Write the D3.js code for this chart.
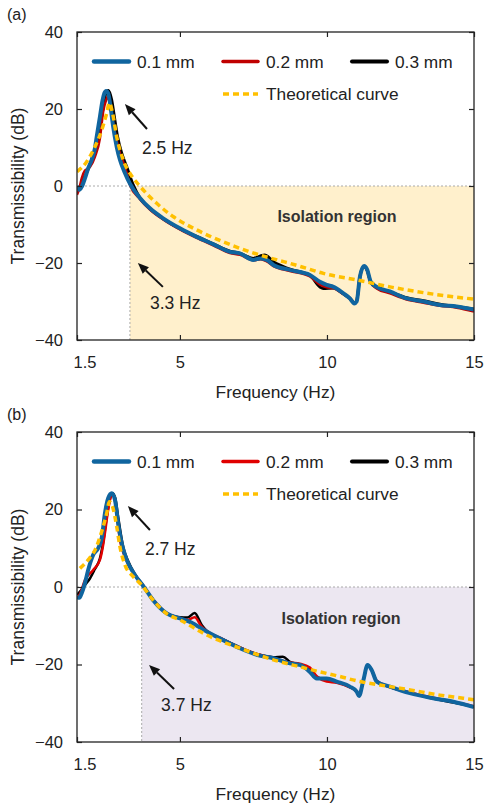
<!DOCTYPE html>
<html>
<head>
<meta charset="utf-8">
<script src="https://cdn.jsdelivr.net/npm/d3@7"></script>
<style>
  body { margin: 0; background: #fff; }
  text { font-family: "Liberation Sans", Arial, sans-serif; fill: #222; }
</style>
</head>
<body>
<svg id="chart" width="485" height="807"></svg>
<script>
// ---- axis ticks and legend labels ----
const freqTicks = [1.5, 5, 10, 15];
const dbTicks = [40, 20, 0, -20, -40];
const seriesNames = ["0.1 mm", "0.2 mm", "0.3 mm"];
const theoryName = "Theoretical curve";

// ---- panel (a): measured transmissibility, [frequency Hz, dB] ----
const a01 = [[1.5,0],[1.58,-1.0],[1.66,-0.2],[1.77,2],[1.88,4.6],[2.0,6.8],[2.11,9.8],[2.17,12.8],[2.28,18],[2.37,22.3],[2.43,24.1],[2.49,24.7],[2.56,24.1],[2.64,20.6],[2.73,15.4],[2.85,10.2],[2.96,6.8],[3.13,3.4],[3.3,0.6],[3.64,-3.1],[3.98,-5.8],[4.43,-8.4],[5.0,-11],[5.57,-13.2],[6.13,-15.1],[6.7,-17.1],[7.04,-17.5],[7.5,-19.2],[7.72,-18.8],[7.95,-19.2],[8.18,-20.5],[8.74,-21.8],[9.42,-23.1],[9.76,-24.9],[9.99,-25.7],[10.22,-26.2],[10.56,-27.9],[10.78,-29.2],[10.93,-30.5],[11.01,-30.0],[11.12,-23.6],[11.26,-20.8],[11.37,-21.8],[11.49,-24.9],[11.69,-26.2],[12.14,-27.4],[12.71,-29.2],[13.28,-30],[13.84,-30.9],[14.41,-31.3],[15,-32.1]];
const a02 = [[1.5,-2.3],[1.58,-0.6],[1.66,2],[1.77,4],[1.94,4.9],[2.11,7.6],[2.28,12.4],[2.39,19.3],[2.49,22.3],[2.54,23.2],[2.62,21.5],[2.73,16.3],[2.85,11.9],[2.96,8.5],[3.13,5],[3.3,0.3],[3.64,-3.4],[3.98,-6.1],[4.43,-8.7],[5.0,-11.3],[5.57,-13.5],[6.13,-15.4],[6.7,-17.4],[7.04,-17.9],[7.5,-19.3],[7.75,-19.0],[7.95,-19.6],[8.18,-20.8],[8.74,-22.1],[9.42,-23.5],[9.76,-25.6],[9.99,-26.3],[10.22,-26.6],[10.56,-28.1],[10.78,-29.3],[10.93,-30.5],[11.01,-30.0],[11.12,-23.8],[11.26,-21],[11.37,-22],[11.49,-25.2],[11.69,-26.6],[12.14,-27.9],[12.71,-29.5],[13.28,-30.3],[13.84,-31.1],[14.41,-31.6],[15,-32.6]];
const a03 = [[1.5,-0.5],[1.6,-0.5],[1.7,1.5],[1.8,3],[1.94,5.5],[2.11,9.5],[2.25,14],[2.38,20],[2.47,23.8],[2.57,24.8],[2.68,22.3],[2.77,18],[2.88,12.8],[3.02,8.5],[3.19,5],[3.4,0.5],[3.64,-3.1],[3.98,-5.9],[4.43,-8.5],[5.0,-11.1],[5.57,-13.1],[6.13,-15],[6.7,-16.9],[7.04,-17.5],[7.5,-18.8],[7.72,-18.2],[7.89,-17.9],[8.18,-19.7],[8.74,-21.6],[9.42,-23.2],[9.76,-26.2],[9.87,-26.6],[10.22,-26.5],[10.56,-28],[10.78,-29.2],[10.93,-30.3],[11.01,-29.8],[11.12,-23.6],[11.26,-20.9],[11.37,-21.9],[11.49,-25],[11.69,-26.3],[12.14,-27.5],[12.71,-29],[13.28,-29.8],[13.84,-30.7],[14.41,-31.3],[15,-32]];
const aTheory = [[1.5,3.7],[1.83,6.3],[2.11,10.2],[2.34,14.5],[2.51,18.9],[2.6,21.6],[2.71,18.9],[2.85,12.8],[3.07,6.8],[3.36,2.6],[3.6,0.3],[4.21,-4.5],[4.78,-8],[5.57,-11.4],[6.47,-14.5],[7.38,-17.1],[8.4,-19.4],[8.74,-20.1],[9.31,-21.4],[9.88,-22.7],[11.01,-24.4],[12.14,-26.2],[13.28,-27.7],[15,-29.4]];

// ---- panel (b) ----
const b01 = [[1.5,-2.6],[1.58,-2.8],[1.66,-1.6],[1.77,1],[1.88,4.4],[2.05,8.3],[2.22,10],[2.34,12.6],[2.45,19],[2.56,22.9],[2.68,24.2],[2.79,22.5],[2.9,16.4],[3.02,11.3],[3.19,7],[3.47,3.1],[3.75,0.3],[4.09,-3.4],[4.55,-6.8],[5.0,-8.1],[5.34,-9],[5.91,-11.5],[6.47,-13.7],[7.04,-15.8],[7.61,-17.5],[8.18,-18.4],[8.74,-19.7],[9.08,-20.1],[9.42,-21.9],[9.65,-23.6],[9.99,-23.6],[10.33,-24.4],[10.78,-25.7],[11.01,-27],[11.09,-28.1],[11.24,-24],[11.38,-20.1],[11.52,-21.4],[11.69,-24.4],[12.14,-25.7],[12.82,-27.4],[13.61,-28.7],[14.3,-29.6],[15,-31]];
const b02 = [[1.5,-3],[1.6,-1.8],[1.77,1.8],[2.05,4.4],[2.28,7],[2.37,10],[2.45,13.9],[2.56,19.9],[2.68,23.7],[2.75,23.5],[2.85,19],[2.96,12.1],[3.13,7.8],[3.47,3.2],[3.75,0.4],[4.09,-3.3],[4.55,-6.7],[5.0,-8],[5.25,-8.5],[5.5,-7.8],[5.74,-10.2],[5.91,-11.3],[6.47,-13.5],[7.04,-15.6],[7.61,-17.3],[8.18,-18.3],[8.74,-19.5],[9.08,-19.8],[9.42,-20.8],[9.65,-23],[9.99,-24.4],[10.33,-24.7],[10.78,-25.9],[11.01,-27],[11.09,-28],[11.24,-24],[11.38,-20.2],[11.52,-21.4],[11.69,-24.2],[12.14,-25.8],[12.82,-27.2],[13.61,-28.6],[14.3,-29.6],[15,-30.8]];
const b03 = [[1.5,-2],[1.6,-1.2],[1.8,0.8],[1.94,2.2],[2.1,4.5],[2.28,7.4],[2.4,12],[2.5,17.5],[2.6,22],[2.71,24.2],[2.8,23],[2.9,18.1],[3.07,10.4],[3.25,6.5],[3.47,3.3],[3.75,0.4],[4.09,-3.3],[4.55,-6.7],[5.0,-7.8],[5.25,-7.9],[5.5,-6.7],[5.74,-9.8],[5.91,-11.3],[6.47,-13.5],[7.04,-15.6],[7.61,-17.3],[8.18,-18.1],[8.5,-18],[8.74,-19.3],[9.08,-20],[9.42,-21.2],[9.65,-23.2],[9.99,-24.1],[10.33,-24.5],[10.78,-25.8],[11.01,-27],[11.09,-28],[11.24,-24],[11.38,-20.2],[11.52,-21.4],[11.69,-24.3],[12.14,-25.8],[12.82,-27.3],[13.61,-28.8],[14.3,-29.8],[15,-30.9]];
const bTheory = [[1.6,4.8],[1.88,7],[2.11,9.5],[2.34,14.3],[2.51,19],[2.6,22],[2.71,20.7],[2.85,15.6],[2.96,10.4],[3.13,5.7],[3.41,2.7],[3.7,0.5],[4.09,-3.4],[4.55,-6.9],[5.0,-8.5],[5.91,-12.4],[7.04,-15.8],[8.18,-18.8],[9.08,-20.6],[9.76,-21.9],[10.44,-23.1],[11.12,-24.4],[11.8,-25.3],[12.48,-26.1],[13.16,-27],[13.84,-27.9],[14.63,-28.7],[15,-29.1]];

// ---- annotations: crossover / resonance markers ----
const aNotes = [
  { text: "2.5 Hz", at: [3.71, 10], head: [3.13, 21.3], tail: [3.88, 14.8] },
  { text: "3.3 Hz", at: [3.98, -30.4], head: [3.57, -20], tail: [4.42, -26.2] }
];
const bNotes = [
  { text: "2.7 Hz", at: [3.81, 9.8], head: [3.23, 20.9], tail: [3.98, 14.7] },
  { text: "3.7 Hz", at: [4.36, -30.5], head: [3.95, -20.1], tail: [4.8, -26.3] }
];

const svg = d3.select("#chart");
const left = 77, right = 474;

function drawPanel(cfg) {
  const x = d3.scaleLinear().domain([1.5, 15]).range([left, right]);
  const y = d3.scaleLinear().domain([-40, 40]).range([cfg.top + cfg.h, cfg.top]);
  const g = svg.append("g");
  const clipId = "clip-" + cfg.id;
  svg.append("clipPath").attr("id", clipId)
    .append("rect").attr("x", left).attr("y", cfg.top)
    .attr("width", right - left).attr("height", cfg.h);

  // isolation region shading above the crossover frequency
  g.append("rect")
    .attr("x", x(cfg.cutoff)).attr("y", y(0))
    .attr("width", x(15) - x(cfg.cutoff)).attr("height", y(-40) - y(0))
    .attr("fill", cfg.shade);

  // 0 dB reference and crossover guide
  g.append("line").attr("x1", left).attr("x2", right).attr("y1", y(0)).attr("y2", y(0))
    .attr("stroke", "#aaa").attr("stroke-width", 1).attr("stroke-dasharray", "2,2");
  g.append("line").attr("x1", x(cfg.cutoff)).attr("x2", x(cfg.cutoff)).attr("y1", y(0)).attr("y2", y(-40))
    .attr("stroke", "#aaa").attr("stroke-width", 1).attr("stroke-dasharray", "2,2");

  g.append("text").attr("x", x(cfg.region[0])).attr("y", y(cfg.region[1]))
    .attr("dy", "0.35em").attr("text-anchor", "middle")
    .attr("font-size", 16).attr("font-weight", "bold").style("fill", "#333")
    .text("Isolation region");

  const line = d3.line().x(d => x(d[0])).y(d => y(d[1])).curve(d3.curveMonotoneX);
  const curves = g.append("g").attr("clip-path", `url(#${clipId})`);
  // draw order: 0.3 mm, 0.2 mm, 0.1 mm, theory on top
  [2, 1, 0].forEach(i => {
    curves.append("path").datum(cfg.series[i])
      .attr("fill", "none").attr("stroke", cfg.colors[i])
      .attr("stroke-width", cfg.widths[i]).attr("stroke-linejoin", "round")
      .attr("d", line);
  });
  curves.append("path").datum(cfg.theory)
    .attr("fill", "none").attr("stroke", "#ffc000").attr("stroke-width", 3.5)
    .attr("stroke-dasharray", "6,4").attr("d", line);

  // frame and inward ticks on all four sides
  g.append("rect").attr("x", left).attr("y", cfg.top).attr("width", right - left).attr("height", cfg.h)
    .attr("fill", "none").attr("stroke", "#222").attr("stroke-width", 1.3);

  const ax = g.append("g").attr("transform", `translate(0,${cfg.top + cfg.h})`)
    .call(d3.axisBottom(x).tickValues(freqTicks).tickSize(-5).tickPadding(16).tickFormat(d3.format("")));
  const ay = g.append("g").attr("transform", `translate(${left},0)`)
    .call(d3.axisLeft(y).tickValues(dbTicks).tickSize(-5).tickPadding(14));
  const at = g.append("g").attr("transform", `translate(0,${cfg.top})`)
    .call(d3.axisTop(x).tickValues(freqTicks).tickSize(-5).tickFormat(""));
  const ar = g.append("g").attr("transform", `translate(${right},0)`)
    .call(d3.axisRight(y).tickValues(dbTicks).tickSize(-5).tickFormat(""));
  [ax, ay, at, ar].forEach(a => {
    a.select(".domain").remove();
    a.selectAll(".tick line").attr("stroke", "#222").attr("stroke-width", 1.2);
    a.selectAll("text").attr("font-size", 16.5).style("fill", "#222")
      .attr("font-family", '"Liberation Sans", Arial, sans-serif');
  });
  ax.selectAll(".tick text").filter(d => d === 1.5).attr("text-anchor", "start").attr("x", -4);

  // axis titles and panel tag
  g.append("text").attr("x", 7).attr("y", cfg.top - 12).attr("font-size", 16).text(cfg.label);
  g.append("text").attr("transform", `translate(24,${cfg.top + cfg.h / 2}) rotate(-90)`)
    .attr("text-anchor", "middle").attr("font-size", 17.5).text("Transmissibility (dB)");
  g.append("text").attr("x", (left + right) / 2).attr("y", cfg.top + cfg.h + 58)
    .attr("text-anchor", "middle").attr("font-size", 17.4).text("Frequency (Hz)");

  // legend
  const legRow1 = cfg.top + 29.5, legRow2 = cfg.top + 62;
  const legItems = [
    { name: seriesNames[0], x0: left + 17, row: legRow1, color: cfg.colors[0], w: 4.5, dash: null },
    { name: seriesNames[1], x0: left + 146, row: legRow1, color: cfg.colors[1], w: 3.5, dash: null },
    { name: seriesNames[2], x0: left + 275, row: legRow1, color: cfg.colors[2], w: 4, dash: null },
    { name: theoryName, x0: left + 146, row: legRow2, color: "#ffc000", w: 3.5, dash: "6,4" }
  ];
  legItems.forEach(it => {
    g.append("line").attr("x1", it.x0).attr("x2", it.x0 + 35).attr("y1", it.row).attr("y2", it.row)
      .attr("stroke", it.color).attr("stroke-width", it.w)
      .attr("stroke-dasharray", it.dash).attr("stroke-linecap", it.dash ? "butt" : "round");
    g.append("text").attr("x", it.x0 + 43).attr("y", it.row).attr("dy", "0.35em")
      .attr("font-size", 17.3).text(it.name);
  });

  // frequency annotations with arrows
  cfg.notes.forEach(n => {
    const hx = x(n.head[0]), hy = y(n.head[1]);
    const tx = x(n.tail[0]), ty = y(n.tail[1]);
    const ang = Math.atan2(hy - ty, hx - tx);
    const L = 11, W = 4.5;
    const bx = hx - L * Math.cos(ang), by = hy - L * Math.sin(ang);
    g.append("line").attr("x1", tx).attr("y1", ty).attr("x2", bx).attr("y2", by)
      .attr("stroke", "#111").attr("stroke-width", 2);
    const px = -Math.sin(ang) * W, py = Math.cos(ang) * W;
    g.append("path")
      .attr("d", `M${hx},${hy}L${bx + px},${by + py}L${bx - px},${by - py}Z`)
      .attr("fill", "#111");
    g.append("text").attr("x", x(n.at[0])).attr("y", y(n.at[1])).attr("dy", "0.35em")
      .attr("font-size", 17.5).text(n.text);
  });
}

drawPanel({
  id: "a", label: "(a)", top: 32, h: 308, cutoff: 3.3, shade: "#fff0cc",
  region: [10.34, -7.8],
  series: [a01, a02, a03], theory: aTheory,
  colors: ["#10659f", "#c00000", "#000000"], widths: [4, 2.5, 3],
  notes: aNotes
});
drawPanel({
  id: "b", label: "(b)", top: 432, h: 310, cutoff: 3.7, shade: "#ece7f1",
  region: [10.48, -8],
  series: [b01, b02, b03], theory: bTheory,
  colors: ["#10659f", "#e00000", "#000000"], widths: [4, 2.5, 2.5],
  notes: bNotes
});
</script>
</body>
</html>
